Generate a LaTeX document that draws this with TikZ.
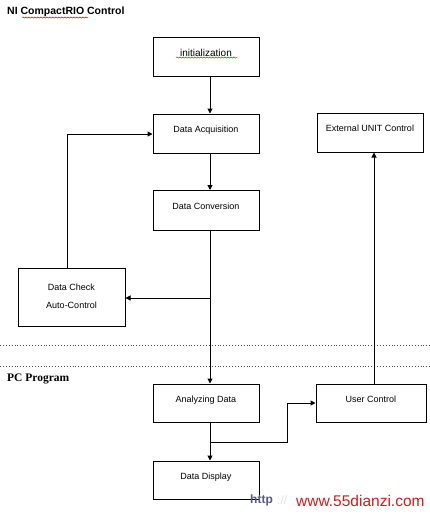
\documentclass[tikz,border=0pt]{standalone}
\usepackage{fontspec}
\setmainfont{Liberation Sans}
\newfontfamily\serifbold{Liberation Serif}
\usetikzlibrary{arrows.meta,decorations.pathmorphing}
\begin{document}
\begin{tikzpicture}[x=1pt,y=-1pt,
  box/.style={draw,line width=1pt,minimum width=106pt,minimum height=39pt,inner sep=0pt,font=\fontsize{9}{10}\selectfont},
  conn/.style={line width=1pt,-{Triangle[length=5pt,width=5pt]}},
  plain/.style={line width=1pt},
  sep/.style={draw=black!70,dotted,line width=0.9pt},
  squig/.style={decorate,decoration={snake,amplitude=0.6pt,segment length=3pt},line width=0.5pt}]
\useasboundingbox[fill=white] (0,0) rectangle (430,515);
% section labels
\node[anchor=west,font=\fontsize{10.5}{12}\bfseries\selectfont,inner sep=0pt] (t1) at (7,12) {NI CompactRIO Control};
\node[anchor=west,font=\serifbold\fontsize{11.5}{13}\bfseries\selectfont,inner sep=0pt] (t2) at (7,379) {PC Program};
\draw[squig,red!80!black] (22,17.5) -- (88,17.5);
% separators
\draw[sep] (0,345) -- (430,345);
\draw[sep] (0,366) -- (430,366);
% boxes
\node[box] (init) at (206,56.5) {\raisebox{8pt}{\fontsize{10}{12}\selectfont initialization}};
\draw[squig,green!50!black] (176,57.5) -- (237,57.5);
\node[box] (acq) at (206,133.5) {\raisebox{8pt}{Data Acquisition}};
\node[box] (ext) at (370,132.5) {\raisebox{8pt}{External UNIT Control}};
\node[box,minimum height=40pt] (conv) at (206,210.5) {\raisebox{8pt}{Data Conversion}};
\node[box,minimum width=107pt,minimum height=58pt] (chk) at (71.5,297) {\raisebox{8pt}{\begin{tabular}{@{}c@{}}Data Check\\[8pt]Auto-Control\\[0pt]\end{tabular}}};
\node[box,minimum height=38pt] (ana) at (206,403) {\raisebox{8pt}{Analyzing Data}};
\node[box,minimum width=110pt,minimum height=38pt] (user) at (371,403) {\raisebox{8pt}{User Control}};
\node[box,minimum height=38pt] (disp) at (206,480) {\raisebox{8pt}{Data Display}};
% connector points
\coordinate (j1) at (210,298);
\coordinate (j2) at (210,442);
\coordinate (k1) at (287,442);
\coordinate (k2) at (287,403);
\coordinate (c1) at (67,134);
% connectors
\draw[conn] (init.south -| 210,0) -- (acq.north -| 210,0);
\draw[conn] (acq.south -| 210,0) -- (conv.north -| 210,0);
\draw[conn] (conv.south -| 210,0) -- (ana.north -| 210,0);
\draw[conn] (j1) -- (chk.east |- j1);
\draw[conn] (chk.north -| c1) -- (c1) -- (acq.west |- c1);
\draw[conn] (ana.south -| 210,0) -- (disp.north -| 210,0);
\draw[conn] (j2) -- (k1) -- (k2) -- (user.west |- k2);
\draw[conn] (user.north -| 374,0) -- (ext.south -| 374,0);
% watermark
\node[anchor=west,inner sep=0pt,font=\fontsize{12}{14}\bfseries\selectfont,text=black!45!blue!30!gray] (w1) at (250,500) {http};
\node[anchor=west,inner sep=0pt,font=\fontsize{12}{14}\selectfont,text=black!12] (w2) at (277,500) {://};
\node[anchor=west,inner sep=0pt,font=\fontsize{15.5}{18}\selectfont,text={rgb,255:red,205;green,30;blue,30}] (w3) at (296,501) {www.55dianzi.com};
\end{tikzpicture}
\end{document}
